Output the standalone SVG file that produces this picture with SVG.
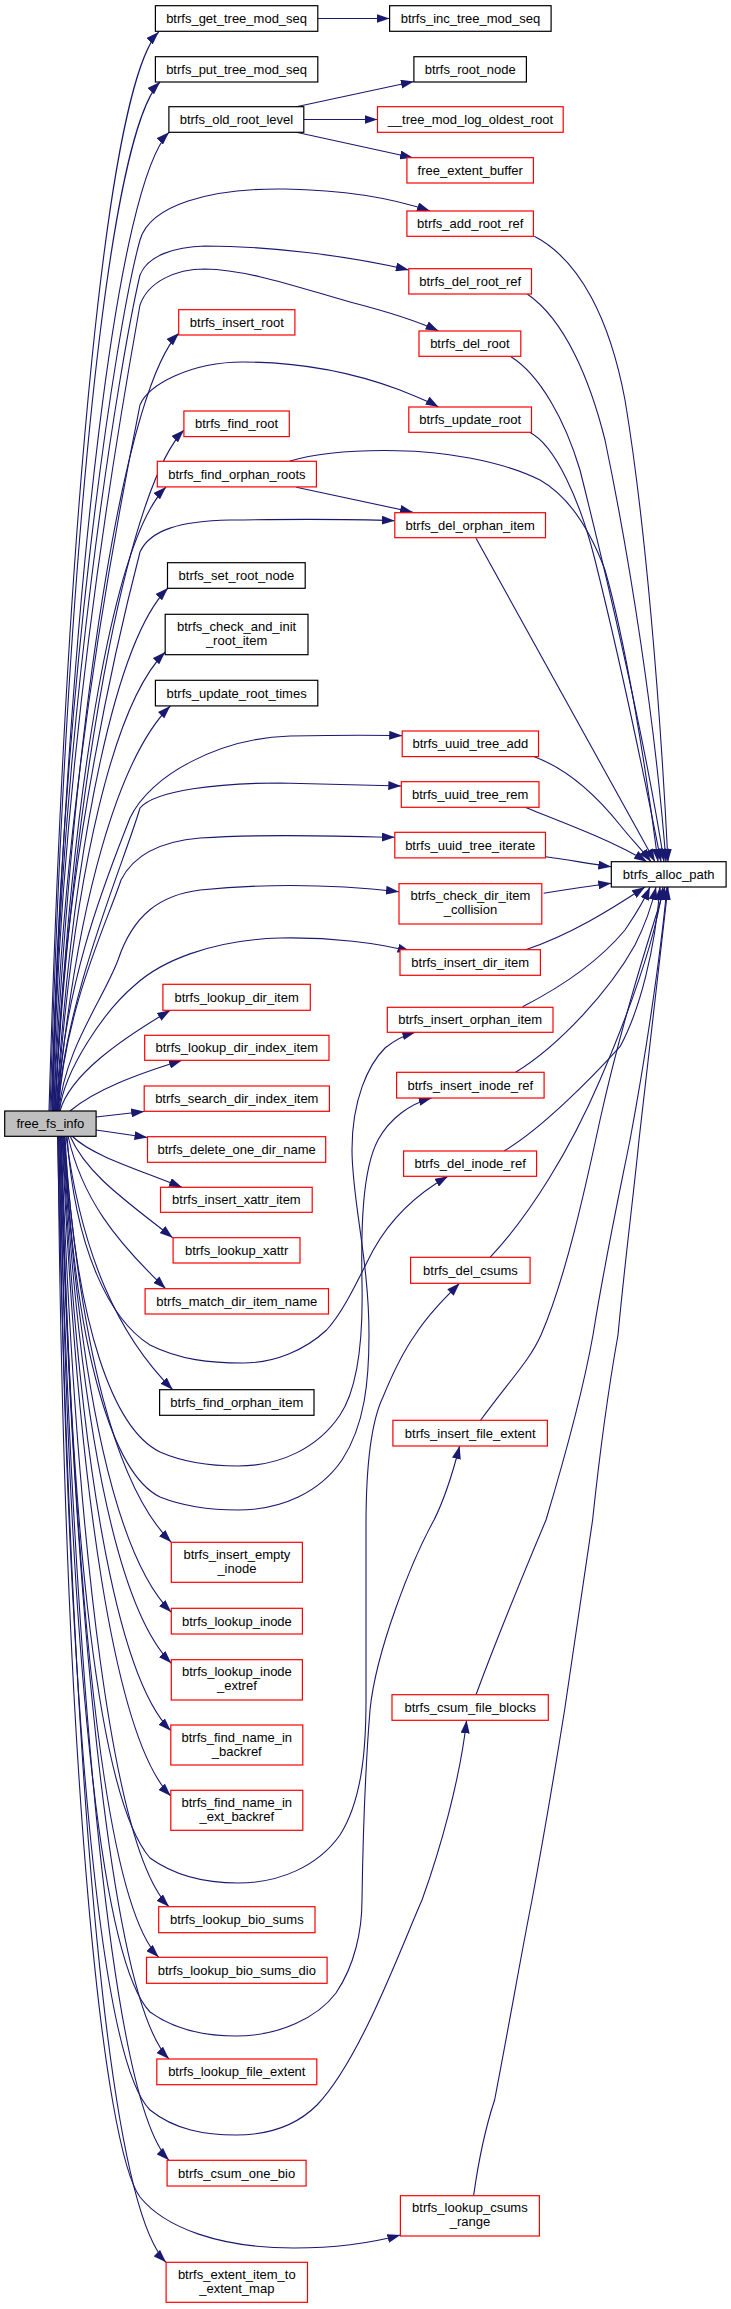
<svg xmlns="http://www.w3.org/2000/svg" width="731" height="2309" viewBox="0 0 731 2309">
<style>
.nd rect{fill:#ffffff;stroke:#ff0000;stroke-width:1.2}
.nd.k rect{stroke:#000000}
.nd.root rect{fill:#bfbfbf;stroke:#000000}
.nd text{font-family:"Liberation Sans",Arial,Helvetica,sans-serif;font-size:13px;fill:#000;text-anchor:middle}
.edges path{fill:none;stroke:#191970;stroke-width:1.1;marker-end:url(#ah)}
</style>
<defs>
<marker id="ah" markerWidth="13" markerHeight="9" refX="13" refY="4.5" orient="auto" markerUnits="userSpaceOnUse">
<path d="M0,0 L13,4.5 L0,9 z" fill="#191970"/>
</marker>
</defs>
<rect width="731" height="2309" fill="#ffffff"/>
<g class="edges" id="edges">
<!-- rank1 / rank2 local -->
<path d="M317.8,18.5 L389.6,18.5"/>
<path d="M296.3,106.7 L413.9,81.5"/>
<path d="M303.8,119.5 L377.5,119.5"/>
<path d="M296.3,132.3 L413,157.7"/>
<path d="M296.3,487.3 L413,512.2"/>
<!-- free_fs_info upward to rank1 -->
<path d="M49,1111 C67,494 109,82 158.7,32"/>
<path d="M50,1111 C68,524 110,132 160,82"/>
<path d="M51,1111 C71.4,554 119,182 169,132.3"/>
<path d="M53.5,1111 C76,674 129,383 179,333"/>
<path d="M54.5,1111 C78,732 134,480 184,430"/>
<path d="M55,1111 C73,767 116,537 166,487"/>
<path d="M56,1111 C74.6,827 118,638 168,588"/>
<path d="M56.5,1111 C74,866 115,702 165.2,652"/>
<path d="M57,1111 C76,898 120,756 170.3,706"/>
<path d="M60,1111 C70,1075 120,1040 170.3,1010.3"/>
<path d="M70,1111 C95,1090 135,1075 182,1060.3"/>
<path d="M96,1117 L144.2,1111.5"/>
<path d="M96,1130 L147.5,1137.5"/>
<!-- free_fs_info downward to rank1 -->
<path d="M72,1136 C92,1156 140,1170 182,1187.3"/>
<path d="M70,1136 C86.5,1174 125,1200 172.7,1237.7"/>
<path d="M68,1136 C82,1198 115,1240 165.7,1288.7"/>
<path d="M66,1136 C81.6,1255 118,1335 172.7,1389.7"/>
<path d="M64,1136 C79.6,1347 116,1487 171.3,1542.3"/>
<path d="M63.5,1136 C79,1389 116,1557 171.3,1612.3"/>
<path d="M63,1136 C79,1419 116,1608 171.3,1663.3"/>
<path d="M62.5,1136 C78.5,1460 116,1676 170.8,1730.7"/>
<path d="M62,1136 C78,1499 116,1741 170.8,1796"/>
<path d="M61,1136 C77,1565 114,1852 169,1906.7"/>
<path d="M60.5,1136 C73.5,1596 104,1902 158.7,1957.3"/>
<path d="M59.5,1136 C76,1657 114,2004 169,2059"/>
<path d="M58.5,1136 C75,1718 114,2105 169,2160.3"/>
<path d="M57.5,1136 C73.5,1838 111,2207 166,2262.3"/>
<!-- free_fs_info to rank2 via top -->
<path d="M52,1111 C60,700 115,330 140,240 C150,205 210,188 285,189 C345,190 395,199 430,211"/>
<path d="M52.5,1111 C60,720 120,360 140,275 C148,255 175,247 205,246 C270,246 350,256 408.8,270"/>
<path d="M53,1111 C60,740 125,390 140,305 C148,282 175,269 205,269 C250,270 300,288 350,302 C385,311 415,320 438.6,331"/>
<path d="M54,1111 C60,800 125,480 140,405 C148,385 190,362 243,362 C310,362 360,375 400,390 C415,396 428,401 438.6,407"/>
<path d="M55.5,1111 C62,860 125,610 140,552 C150,530 180,521 230,520 C300,519 350,519 394.8,520.7"/>
<path d="M57.5,1111 C63,980 110,870 130,818 C150,775 220,738 290,736 C340,735 375,735 402.2,735.7"/>
<path d="M58,1111 C64,1000 125,860 140,808 C155,790 220,783 280,783 C330,784 370,785 401.3,786"/>
<path d="M58.5,1111 C64,1010 108,920 121,880 C135,852 165,841 200,838 C260,834 330,836 394.8,837.3"/>
<path d="M59,1111 C64,1050 103,1000 118,960 C133,915 160,895 200,890 C270,883 340,885 399,891.7"/>
<path d="M59.5,1111 C64,1070 105,1010 135,985 C160,962 210,940 280,938 C330,937 380,943 410.6,951.7"/>
<!-- free_fs_info to rank2 via bottom loops -->
<path d="M67,1136 C75,1250 110,1320 150,1345 C180,1360 210,1363 243,1363 C275,1363 305,1350 326.6,1330 C345,1310 360,1275 373.3,1250 C390,1220 415,1195 448,1176.3"/>
<path d="M65,1136 C75,1330 115,1430 160,1452 C185,1463 210,1466 238,1466 C280,1466 318,1448 340,1415 C360,1385 363,1330 362,1283 C361,1230 362,1170 378,1140 C390,1118 410,1104 431.6,1098"/>
<path d="M64.5,1136 C75,1360 115,1475 160,1497 C185,1507 210,1510 238,1510 C282,1510 320,1492 342,1460 C365,1425 369,1380 369,1335 C369,1260 352,1200 352,1150 C352,1100 368,1065 385,1048 C395,1040 405,1035 415.3,1032.3"/>
<path d="M61.5,1136 C70,1550 100,1800 150,1858 C175,1876 205,1883 238,1883 C280,1883 318,1866 340,1835 C362,1800 366,1750 366,1700 L366,1525 C366,1460 372,1420 383,1397 C392,1375 403,1352 415,1335 C428,1315 444,1299 459.6,1283.3"/>
<path d="M60,1136 C68,1650 100,1960 150,2012 C175,2030 205,2036 236,2036 C280,2036 318,2017 336,1993 C355,1965 362,1930 362,1900 C363,1830 366,1760 370,1710 C376,1650 412,1560 434,1520 C445,1498 453,1472 459.6,1446"/>
<path d="M59,1136 C66,1700 100,2060 150,2110 C175,2130 205,2135 236,2135 C275,2135 300,2122 317,2105 C360,2060 400,1950 422,1900 C440,1850 460,1780 466.6,1720.3"/>
<path d="M58,1136 C64,1800 105,2150 140,2197 C165,2228 220,2248 294,2248 C340,2248 375,2242 400.4,2235"/>
<!-- to btrfs_alloc_path -->
<path d="M534.3,236.3 C580,260 610,320 625,400 C645,520 660,700 668,861.7"/>
<path d="M527.3,294 C565,320 590,380 605,440 C630,560 655,720 666,861.7"/>
<path d="M511,356.7 C540,375 565,420 580,470 C610,590 645,740 664,861.7"/>
<path d="M529.6,432.3 C555,445 580,500 595,560 C620,660 645,780 661,861.7"/>
<path d="M289.3,461.3 C320,452 360,450 397,450.7 C440,451 500,460 540,480 C570,497 590,530 605,570 C625,640 645,760 658,861.7"/>
<path d="M476,538.3 L655,861.7"/>
<path d="M534.3,756.7 C570,770 600,800 620,825 C632,840 642,850 651,861.7"/>
<path d="M525,807.3 C570,825 615,842 647,861.7"/>
<path d="M546,856.7 C570,860 590,864 611.3,866.7"/>
<path d="M543.6,893.3 C570,889 590,886 611.3,883.3"/>
<path d="M525,950 C570,935 610,910 645,887"/>
<path d="M522.6,1006.7 C565,985 600,960 625,930 C635,915 642,905 650,887"/>
<path d="M515.6,1072.3 C560,1045 610,990 635,945 C645,925 652,905 656,887"/>
<path d="M504,1151 C540,1130 590,1080 620,1046.7 C640,1010 655,950 660,887"/>
<path d="M490,1257.3 C530,1215 570,1150 600,1080 C630,1010 655,940 663,887"/>
<path d="M480.6,1420.3 C510,1380 530,1360 541,1335 C565,1280 585,1190 600,1120 C620,1030 645,950 665,887"/>
<path d="M476,1694.7 C500,1630 525,1570 546,1520 C570,1440 585,1380 593,1335 C605,1260 620,1190 630,1140 C645,1060 660,960 667,887"/>
<path d="M473.6,2195.7 C480,2150 488,2120 494.6,2100 C510,2020 522,1950 532,1900 C545,1830 555,1770 564.6,1710 C575,1640 585,1570 592.6,1520 C600,1450 610,1380 618,1335 C625,1260 633,1200 639,1140 C650,1040 660,950 668,887"/>
</g>
<g id="node_free_fs_info" class="nd root"><rect x="4.7" y="1111" width="91.4" height="25.3"/><text x="50.4" y="1128.2">free_fs_info</text></g>
<g id="node_get_tree_mod_seq" class="nd k"><rect x="155.4" y="5.7" width="162.4" height="25.6"/><text x="236.6" y="23">btrfs_get_tree_mod_seq</text></g>
<g id="node_inc_tree_mod_seq" class="nd k"><rect x="389.6" y="5.7" width="161.5" height="25.6"/><text x="470.4" y="23">btrfs_inc_tree_mod_seq</text></g>
<g id="node_put_tree_mod_seq" class="nd k"><rect x="155.4" y="56.7" width="162.4" height="25.3"/><text x="236.6" y="73.9">btrfs_put_tree_mod_seq</text></g>
<g id="node_root_node" class="nd k"><rect x="413.9" y="56.7" width="112.5" height="25.3"/><text x="470.2" y="73.9">btrfs_root_node</text></g>
<g id="node_old_root_level" class="nd k"><rect x="168.9" y="106.7" width="134.9" height="25.6"/><text x="236.4" y="124">btrfs_old_root_level</text></g>
<g id="node_tree_mod_log_oldest_root" class="nd"><rect x="377.5" y="106.7" width="185.7" height="25.6"/><text x="470.4" y="124">__tree_mod_log_oldest_root</text></g>
<g id="node_free_extent_buffer" class="nd"><rect x="406.9" y="157.7" width="126.5" height="25.3"/><text x="470.2" y="174.9">free_extent_buffer</text></g>
<g id="node_add_root_ref" class="nd"><rect x="406.9" y="211" width="126.5" height="25.3"/><text x="470.2" y="228.2">btrfs_add_root_ref</text></g>
<g id="node_del_root_ref" class="nd"><rect x="408.8" y="268.7" width="122.7" height="25.3"/><text x="470.2" y="285.9">btrfs_del_root_ref</text></g>
<g id="node_insert_root" class="nd"><rect x="178.7" y="309.7" width="116.2" height="25.3"/><text x="236.8" y="326.9">btrfs_insert_root</text></g>
<g id="node_del_root" class="nd"><rect x="419" y="331" width="101.8" height="25.3"/><text x="469.9" y="348.2">btrfs_del_root</text></g>
<g id="node_update_root" class="nd"><rect x="408.8" y="407" width="122.7" height="25.3"/><text x="470.2" y="424.2">btrfs_update_root</text></g>
<g id="node_find_root" class="nd"><rect x="183.9" y="411" width="105.4" height="25.6"/><text x="236.6" y="428.3">btrfs_find_root</text></g>
<g id="node_find_orphan_roots" class="nd"><rect x="157.3" y="461.3" width="159.1" height="25.6"/><text x="236.9" y="478.6">btrfs_find_orphan_roots</text></g>
<g id="node_del_orphan_item" class="nd"><rect x="394.8" y="512.7" width="150.7" height="25"/><text x="470.2" y="529.7">btrfs_del_orphan_item</text></g>
<g id="node_set_root_node" class="nd k"><rect x="167.5" y="562.7" width="137.7" height="25.6"/><text x="236.4" y="580">btrfs_set_root_node</text></g>
<g id="node_check_and_init_root_item" class="nd k"><rect x="165.2" y="614.3" width="142.8" height="40.4"/><text x="236.6" y="631">btrfs_check_and_init</text><text x="236.6" y="645">_root_item</text></g>
<g id="node_update_root_times" class="nd k"><rect x="155.4" y="680.3" width="162.4" height="25.6"/><text x="236.6" y="697.6">btrfs_update_root_times</text></g>
<g id="node_uuid_tree_add" class="nd"><rect x="402.2" y="731" width="136.3" height="25.6"/><text x="470.3" y="748.3">btrfs_uuid_tree_add</text></g>
<g id="node_uuid_tree_rem" class="nd"><rect x="401.3" y="781.7" width="137.7" height="25.6"/><text x="470.2" y="799">btrfs_uuid_tree_rem</text></g>
<g id="node_uuid_tree_iterate" class="nd"><rect x="394.8" y="832.3" width="150.7" height="25.6"/><text x="470.2" y="849.6">btrfs_uuid_tree_iterate</text></g>
<g id="node_alloc_path" class="nd k"><rect x="611.3" y="861.7" width="114.8" height="25.3"/><text x="668.7" y="878.9">btrfs_alloc_path</text></g>
<g id="node_check_dir_item_collision" class="nd"><rect x="399" y="883.7" width="142.8" height="40.3"/><text x="470.4" y="900.4">btrfs_check_dir_item</text><text x="470.4" y="914.4">_collision</text></g>
<g id="node_insert_dir_item" class="nd"><rect x="400" y="949.7" width="140.4" height="25.6"/><text x="470.2" y="967">btrfs_insert_dir_item</text></g>
<g id="node_lookup_dir_item" class="nd"><rect x="162.9" y="984.3" width="147.4" height="26"/><text x="236.6" y="1001.8">btrfs_lookup_dir_item</text></g>
<g id="node_insert_orphan_item" class="nd"><rect x="387.3" y="1007.3" width="165.7" height="25"/><text x="470.2" y="1024.3">btrfs_insert_orphan_item</text></g>
<g id="node_lookup_dir_index_item" class="nd"><rect x="144.7" y="1035.3" width="184.3" height="25"/><text x="236.8" y="1052.3">btrfs_lookup_dir_index_item</text></g>
<g id="node_insert_inode_ref" class="nd"><rect x="396.6" y="1072.3" width="147.5" height="25.7"/><text x="470.3" y="1089.7">btrfs_insert_inode_ref</text></g>
<g id="node_search_dir_index_item" class="nd"><rect x="144.2" y="1086" width="185.2" height="25.3"/><text x="236.8" y="1103.2">btrfs_search_dir_index_item</text></g>
<g id="node_delete_one_dir_name" class="nd"><rect x="147.5" y="1136.7" width="178.2" height="25.6"/><text x="236.6" y="1154">btrfs_delete_one_dir_name</text></g>
<g id="node_del_inode_ref" class="nd"><rect x="403.6" y="1151" width="133" height="25.3"/><text x="470.1" y="1168.2">btrfs_del_inode_ref</text></g>
<g id="node_insert_xattr_item" class="nd"><rect x="160.5" y="1187.3" width="151.7" height="25"/><text x="236.4" y="1204.3">btrfs_insert_xattr_item</text></g>
<g id="node_lookup_xattr" class="nd"><rect x="173.1" y="1237.7" width="126.9" height="25.3"/><text x="236.6" y="1254.9">btrfs_lookup_xattr</text></g>
<g id="node_del_csums" class="nd"><rect x="410.6" y="1257.3" width="119.5" height="26"/><text x="470.4" y="1274.8">btrfs_del_csums</text></g>
<g id="node_match_dir_item_name" class="nd"><rect x="145.1" y="1288.7" width="183.4" height="25.3"/><text x="236.8" y="1305.9">btrfs_match_dir_item_name</text></g>
<g id="node_find_orphan_item" class="nd k"><rect x="159.6" y="1389.7" width="154.4" height="25.6"/><text x="236.8" y="1407">btrfs_find_orphan_item</text></g>
<g id="node_insert_file_extent" class="nd"><rect x="392.9" y="1420.3" width="154.5" height="25.7"/><text x="470.2" y="1437.7">btrfs_insert_file_extent</text></g>
<g id="node_insert_empty_inode" class="nd"><rect x="171.3" y="1542.3" width="131.1" height="40"/><text x="236.9" y="1558.8">btrfs_insert_empty</text><text x="236.9" y="1572.8">_inode</text></g>
<g id="node_lookup_inode" class="nd"><rect x="171.3" y="1608.3" width="131.1" height="25.7"/><text x="236.9" y="1625.7">btrfs_lookup_inode</text></g>
<g id="node_lookup_inode_extref" class="nd"><rect x="171.3" y="1659.7" width="131.1" height="40.3"/><text x="236.9" y="1676.3">btrfs_lookup_inode</text><text x="236.9" y="1690.3">_extref</text></g>
<g id="node_csum_file_blocks" class="nd"><rect x="392" y="1694.7" width="156.3" height="25.6"/><text x="470.2" y="1712">btrfs_csum_file_blocks</text></g>
<g id="node_find_name_in_backref" class="nd"><rect x="170.8" y="1725" width="132" height="40"/><text x="236.8" y="1741.5">btrfs_find_name_in</text><text x="236.8" y="1755.5">_backref</text></g>
<g id="node_find_name_in_ext_backref" class="nd"><rect x="170.8" y="1790.3" width="132" height="40"/><text x="236.8" y="1806.8">btrfs_find_name_in</text><text x="236.8" y="1820.8">_ext_backref</text></g>
<g id="node_lookup_bio_sums" class="nd"><rect x="158.7" y="1906.7" width="156.3" height="26"/><text x="236.8" y="1924.2">btrfs_lookup_bio_sums</text></g>
<g id="node_lookup_bio_sums_dio" class="nd"><rect x="146.5" y="1957.3" width="180.6" height="26"/><text x="236.8" y="1974.8">btrfs_lookup_bio_sums_dio</text></g>
<g id="node_lookup_file_extent" class="nd"><rect x="156.8" y="2059" width="160" height="25.7"/><text x="236.8" y="2076.4">btrfs_lookup_file_extent</text></g>
<g id="node_csum_one_bio" class="nd"><rect x="167.1" y="2160.3" width="139" height="25.7"/><text x="236.6" y="2177.7">btrfs_csum_one_bio</text></g>
<g id="node_lookup_csums_range" class="nd"><rect x="400.4" y="2195.7" width="139" height="40.3"/><text x="469.9" y="2212.3">btrfs_lookup_csums</text><text x="469.9" y="2226.3">_range</text></g>
<g id="node_extent_item_to_extent_map" class="nd"><rect x="166.1" y="2262.3" width="141.4" height="40"/><text x="236.8" y="2278.8">btrfs_extent_item_to</text><text x="236.8" y="2292.8">_extent_map</text></g>
</svg>
